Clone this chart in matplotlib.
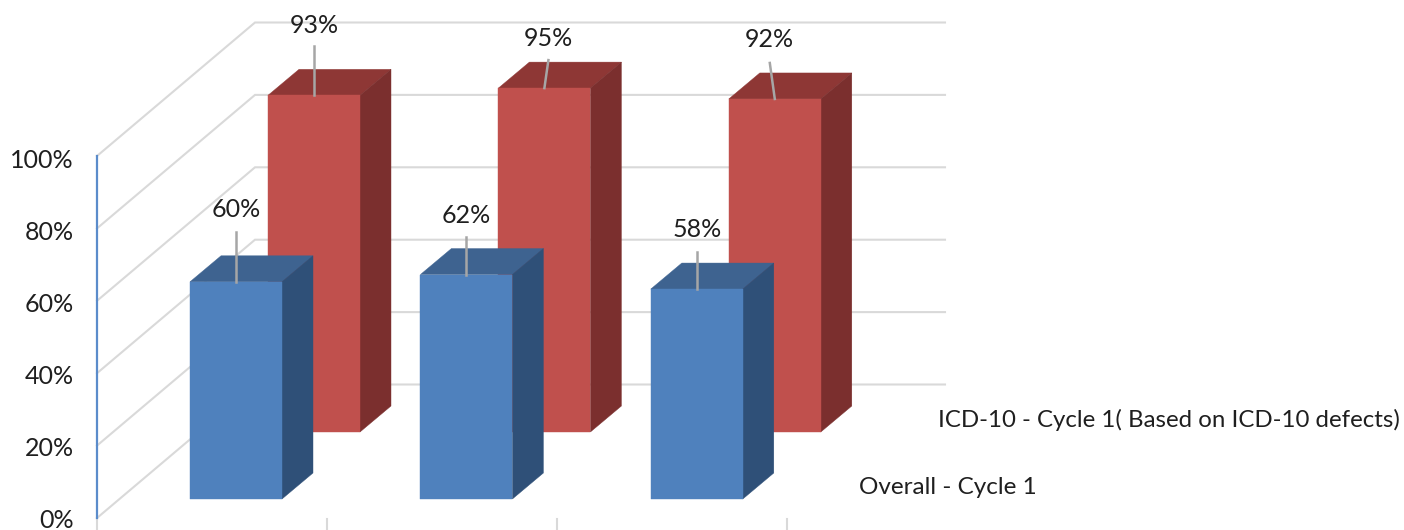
import matplotlib
matplotlib.use("Agg")
import matplotlib.pyplot as plt
from matplotlib.patches import Polygon

plt.rcParams['font.family'] = ['Lato', 'DejaVu Sans']

# Values
overall = [60, 62, 58]
icd10 = [93, 95, 92]
y_ticks = [0, 20, 40, 60, 80, 100]
overall_name = "Overall - Cycle 1"
icd10_name = "ICD-10 - Cycle 1( Based on ICD-10 defects)"

# Layout of the fake 3D scene, in pixels
PX = 3.62
AXIS_X, AXIS_Y0 = 97, 518
WALL_X0, WALL_X1, WALL_Y0 = 255, 945, 384.5
BAR_W, STEP = 92, 230.4
DEPTH_X, DEPTH_Y = 31, 26
BLUE_X0, BLUE_Y0 = 190, 499
RED_X0, RED_Y0 = 268, 432

TEXT = "#1F1F1F"
GRID = "#D9D9D9"

fig = plt.figure(figsize=(14.04, 5.30), dpi=100)
ax = fig.add_axes([0, 0, 1, 1])
ax.set_xlim(0, 1404)
ax.set_ylim(530, 0)
ax.axis("off")

# walls
for v in y_ticks:
    yf = AXIS_Y0 - v * PX
    yb = WALL_Y0 - v * PX
    ax.plot([AXIS_X, WALL_X0, WALL_X1], [yf, yb, yb], color=GRID, lw=1.5, zorder=1,
            solid_joinstyle="miter")
    ax.text(74, 520.5 - v * 3.595, f"{v}%", ha="right", va="center", fontsize=18, color=TEXT)
ax.plot([AXIS_X, AXIS_X], [AXIS_Y0, AXIS_Y0 - 100 * PX], color="#5B8CCB", lw=1.6, zorder=2)

# x ticks under the axis
for i in range(len(overall) + 1):
    x = AXIS_X + i * STEP * 0.9985
    ax.plot([x, x], [519, 530], color=GRID, lw=1.5, zorder=1)


def draw_bar(x, y0, value, front, top, side, z):
    y1 = y0 - value * PX
    faces = [
        ([(x, y1), (x + DEPTH_X, y1 - DEPTH_Y), (x + BAR_W + DEPTH_X, y1 - DEPTH_Y), (x + BAR_W, y1)], top),
        ([(x + BAR_W, y0), (x + BAR_W + DEPTH_X, y0 - DEPTH_Y), (x + BAR_W + DEPTH_X, y1 - DEPTH_Y), (x + BAR_W, y1)], side),
        ([(x, y0), (x + BAR_W, y0), (x + BAR_W, y1), (x, y1)], front),
    ]
    # edge in the face colour closes the antialiasing seams
    for pts, c in faces:
        ax.add_patch(Polygon(pts, facecolor=c, edgecolor=c, lw=0.3, zorder=z))
    return y1


# leader offsets: top shift x, line length, label shift from line end
icd_leader = [(0, 49, 21), (4, 28, 22), (-5, 36, 23)]
ovr_leader = [(0, 50, 22), (0, 38, 21), (0, 37, 23)]

for i, v in enumerate(icd10):
    x = RED_X0 + i * STEP
    y1 = draw_bar(x, RED_Y0, v, "#C0504D", "#8E3735", "#7B2F2E", 3)
    cx = x + BAR_W / 2
    dx, length, gap = icd_leader[i]
    ax.plot([cx, cx + dx], [y1, y1 - length], color="#A6A6A6", lw=1.8, zorder=6)
    ax.text(cx + dx, y1 - length - gap, f"{v}%", ha="center", va="center",
            fontsize=18, color=TEXT, zorder=7)

for i, v in enumerate(overall):
    x = BLUE_X0 + i * STEP
    y1 = draw_bar(x, BLUE_Y0, v, "#4F81BD", "#3E6390", "#2F5078", 4)
    cx = x + BAR_W / 2
    dx, length, gap = ovr_leader[i]
    ax.plot([cx, cx + dx], [y1, y1 - length], color="#A6A6A6", lw=1.8, zorder=6)
    ax.text(cx + dx, y1 - length - gap, f"{v}%", ha="center", va="center",
            fontsize=18, color=TEXT, zorder=7)

# series names sit on the depth axis
ax.text(938, 420, icd10_name, ha="left", va="center", fontsize=17.3, color=TEXT)
ax.text(859, 488, overall_name, ha="left", va="center", fontsize=17.5, color=TEXT)

fig.savefig("out.png", dpi=100)
